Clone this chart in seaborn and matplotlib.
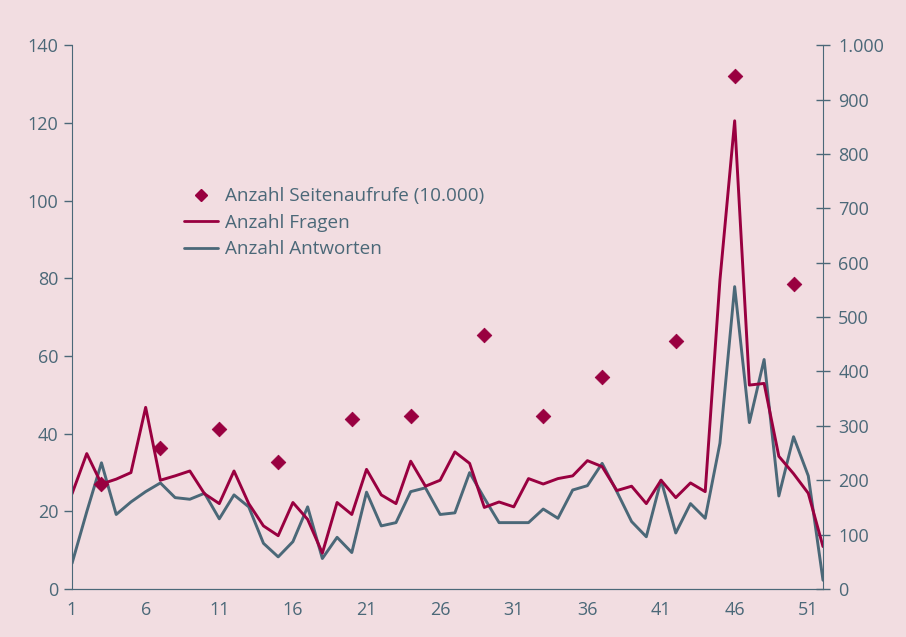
import numpy as np
import pandas as pd
import matplotlib
matplotlib.use("Agg")
import matplotlib.pyplot as plt
import seaborn as sns
from matplotlib.ticker import FuncFormatter
from matplotlib.lines import Line2D

# %%
weeks = list(range(1, 53))

fragen = [175, 249, 193, 202, 214, 334, 200, 208, 217, 175,
          157, 217, 157, 116, 98, 159, 128, 66, 159, 137,
          220, 173, 157, 235, 189, 200, 252, 231, 150, 160,
          151, 203, 193, 203, 208, 236, 225, 181, 189, 157,
          200, 168, 195, 179, 568, 861, 375, 378, 244, 212,
          176, 78]

antworten = [47, 142, 232, 137, 160, 179, 195, 168, 165, 176,
             129, 173, 151, 84, 59, 87, 151, 56, 95, 67,
             178, 116, 122, 179, 186, 137, 140, 214, 167, 122,
             122, 122, 147, 130, 182, 190, 231, 179, 124, 96,
             200, 103, 157, 130, 268, 556, 306, 422, 171, 280,
             208, 16]

aufruf_weeks = [3, 7, 11, 15, 20, 24, 29, 33, 37, 42, 46, 50]
aufrufe = [27.0, 36.3, 41.2, 32.8, 43.7, 44.6, 65.4, 44.6, 54.5, 63.9, 132.0, 78.6]

x_labels = [str(w) if (w - 1) % 5 == 0 else "" for w in weeks]

# %%
red = "#990040"
grey = "#4b6878"
bg = "#f2dde1"

sns.set_style("white")
plt.rcParams["font.family"] = ["Open Sans", "DejaVu Sans"]

fig = plt.figure(figsize=(9.06, 6.37), dpi=100, facecolor=bg)
ax = fig.add_axes([0.0795, 0.0754, 0.8289, 0.8536])
ax.set_facecolor(bg)
ax2 = ax.twinx()

lines = pd.DataFrame({"Woche": weeks, "Fragen": fragen, "Antworten": antworten})
sns.lineplot(data=lines, x="Woche", y="Antworten", color=grey, lw=2.1, ax=ax2)
sns.lineplot(data=lines, x="Woche", y="Fragen", color=red, lw=2.1, ax=ax2)

views = pd.DataFrame({"Woche": aufruf_weeks, "Aufrufe": aufrufe})
sns.scatterplot(data=views, x="Woche", y="Aufrufe", marker="D", s=55, color=red,
                edgecolor=red, ax=ax, zorder=5)
ax.set_zorder(ax2.get_zorder() + 1)
ax.patch.set_visible(False)
ax2.patch.set_visible(True)
ax2.patch.set_facecolor(bg)

ax.set_xlim(1, 52)
ax.set_ylim(0, 140)
ax2.set_ylim(0, 1000)
ax.set_yticks(range(0, 141, 20))
ax2.set_yticks(range(0, 1001, 100))
ax2.yaxis.set_major_formatter(FuncFormatter(lambda v, p: f"{int(v):,}".replace(",", ".")))
ax.set_xticks(weeks)
ax.set_xticklabels(x_labels)
ax.set_xlabel("")
ax.set_ylabel("")
ax2.set_ylabel("")

for a in (ax, ax2):
    for s in a.spines.values():
        s.set_visible(False)
    a.spines["bottom"].set_visible(True)
    a.spines["bottom"].set_color(grey)
ax.spines["left"].set_visible(True)
ax.spines["left"].set_color(grey)
ax2.spines["right"].set_visible(True)
ax2.spines["right"].set_color(grey)

ax.tick_params(axis="y", colors=grey, labelsize=13, length=6, width=1, direction="out", pad=4)
ax.tick_params(axis="x", colors=grey, labelsize=13, length=6, width=1, direction="out", pad=3)
ax2.tick_params(axis="y", colors=grey, labelsize=13, length=10, width=1, direction="inout", pad=6)

handles = [
    Line2D([], [], marker="D", color=red, ls="none", markersize=6),
    Line2D([], [], color=red, lw=2),
    Line2D([], [], color=grey, lw=2),
]
labels = ["Anzahl Seitenaufrufe (10.000)", "Anzahl Fragen", "Anzahl Antworten"]
leg = ax.legend(handles, labels, loc="upper left", bbox_to_anchor=(0.193, 0.721),
                bbox_transform=fig.transFigure, frameon=False, fontsize=13.6,
                handlelength=1.8, handletextpad=0.35, labelspacing=0.45, borderpad=0)
for t in leg.get_texts():
    t.set_color(grey)

fig.savefig("out.png", dpi=100, facecolor=bg)
